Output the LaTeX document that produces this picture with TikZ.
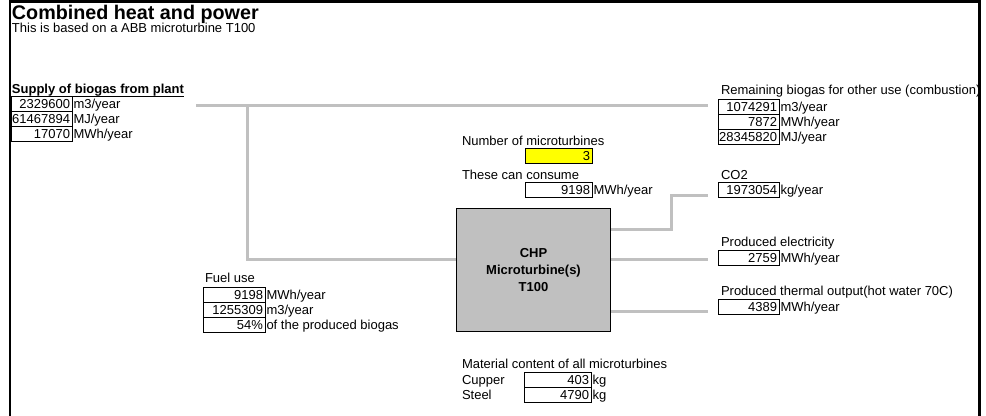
\documentclass[tikz,border=0pt]{standalone}
\usepackage{fontspec}
\setmainfont{Liberation Sans}
\usetikzlibrary{calc}
\definecolor{pipegray}{HTML}{C0C0C0}
\definecolor{chpfill}{HTML}{C0C0C0}
\definecolor{cellyellow}{HTML}{FFFF00}
\tikzset{
  txt/.style={inner sep=0pt, outer sep=0pt, font=\fontsize{9.75pt}{11.7pt}\selectfont},
  boldtxt/.style={txt, font=\bfseries\fontsize{9.75pt}{11.7pt}\selectfont},
  vbox/.style={draw=black, line width=0.75pt, inner sep=0pt, outer sep=0pt, minimum height=11.25pt},
  pipeline/.style={draw=pipegray, line width=2.25pt},
  frame/.style={draw=black, line width=1.9pt},
}
% #1 extra style, #2 name, #3 x1, #4 x2, #5 ytop, #6 value, #7 unit
\newcommand{\vrow}[7][]{%
  \node[vbox,#1, minimum width={(#4-#3)*0.75pt}, anchor=north west] (#2) at (#3,#5) {};
  \node[txt, anchor=base east] (#2v) at ($(#2.north east)+(-2,12)$) {#6};
  \node[txt, anchor=base west] (#2u) at ($(#2.north east)+(1.5,12)$) {#7};
}
\begin{document}
\begin{tikzpicture}[x=0.75pt, y=-0.75pt]
\useasboundingbox (0,0) rectangle (986,416);
\fill[white] (0,0) rectangle (986,416);

% connectors
\coordinate (supplyend) at (196,106);
\coordinate (junction) at (247,106);
\coordinate (remainin) at (708,106);
\coordinate (chpin) at (456,260);
\coordinate (chpco2) at (610,230);
\coordinate (co2bend) at (671,196);
\coordinate (co2in) at (708,196);
\coordinate (chpel) at (610,260);
\coordinate (elin) at (708,260);
\coordinate (chpth) at (610,312);
\coordinate (thin) at (708,312);
\draw[pipeline] (supplyend) -- (remainin);
\draw[pipeline] (junction) |- (chpin);
\draw[pipeline] (chpco2) -| (co2bend) -- (co2in);
\draw[pipeline] (chpel) -- (elin);
\draw[pipeline] (chpth) -- (thin);

% title
\node[txt, anchor=base west, font=\bfseries\fontsize{14.8pt}{16pt}\selectfont] (title) at (12,19.5) {Combined heat and power};
\node[txt, anchor=base west] (subtitle) at (12,33) {This is based on a ABB microturbine T100};

% supply
\node[boldtxt, anchor=base west] (supply) at (12,94) {Supply of biogas from plant};
\draw[line width=0.75pt] ([yshift=-1.6pt]supply.base west) -- ([yshift=-1.6pt]supply.base east);
\vrow{s1}{11}{72}{97}{2329600}{m3/year}
\vrow{s2}{11}{72}{112}{61467894}{MJ/year}
\vrow{s3}{11}{72}{127}{17070}{MWh/year}

% remaining
\begin{scope}
\clip (700,80) rectangle (979,100);
\node[txt, anchor=base west] (remain) at (721,95) {Remaining biogas for other use (combustion)};
\end{scope}
\vrow{r1}{718}{779}{99.5}{1074291}{m3/year}
\vrow{r2}{718}{779}{114.5}{7872}{MWh/year}
\vrow{r3}{718}{779}{129.5}{28345820}{MJ/year}

% number of microturbines
\node[txt, anchor=base west] (numlbl) at (462,146) {Number of microturbines};
\vrow[fill=cellyellow]{n1}{525}{592}{148.5}{3}{}
\node[txt, anchor=base west] (conslbl) at (462,180) {These can consume};
\vrow{c1}{525}{592}{182.5}{9198}{MWh/year}

% CO2
\node[txt, anchor=base west] (co2lbl) at (721,180) {CO2};
\vrow{o1}{718}{779}{183}{1973054}{kg/year}

% CHP
\node[draw=black, fill=chpfill, line width=0.75pt, minimum width={154*0.75pt}, minimum height={123*0.75pt}, anchor=north west, align=center, inner sep=0pt, font=\bfseries\fontsize{9.75pt}{12.75pt}\selectfont] (chp) at (456,208) {CHP\\Microturbine(s)\\T100};

% electricity
\node[txt, anchor=base west] (ellbl) at (721,247) {Produced electricity};
\vrow{e1}{718}{779}{251}{2759}{MWh/year}

% thermal
\node[txt, anchor=base west] (thlbl) at (721,296) {Produced thermal output(hot water 70C)};
\vrow{t1}{718}{779}{300}{4389}{MWh/year}

% fuel use
\node[txt, anchor=base west] (fuellbl) at (205,283) {Fuel use};
\vrow{f1}{203}{265}{287.5}{9198}{MWh/year}
\vrow{f2}{203}{265}{302.5}{1255309}{m3/year}
\vrow{f3}{203}{265}{317.5}{54\%}{of the produced biogas}

% material
\node[txt, anchor=base west] (matlbl) at (462,369) {Material content of all microturbines};
\node[txt, anchor=base west] (cuplbl) at (462,385) {Cupper};
\node[txt, anchor=base west] (stlbl) at (462,400) {Steel};
\vrow{m1}{524}{591}{373}{403}{kg}
\vrow{m2}{524}{591}{388}{4790}{kg}

% frame
\draw[frame] (10,416) -- (10,1.5) -- (979.5,1.5) -- (979.5,416);
\end{tikzpicture}
\end{document}
